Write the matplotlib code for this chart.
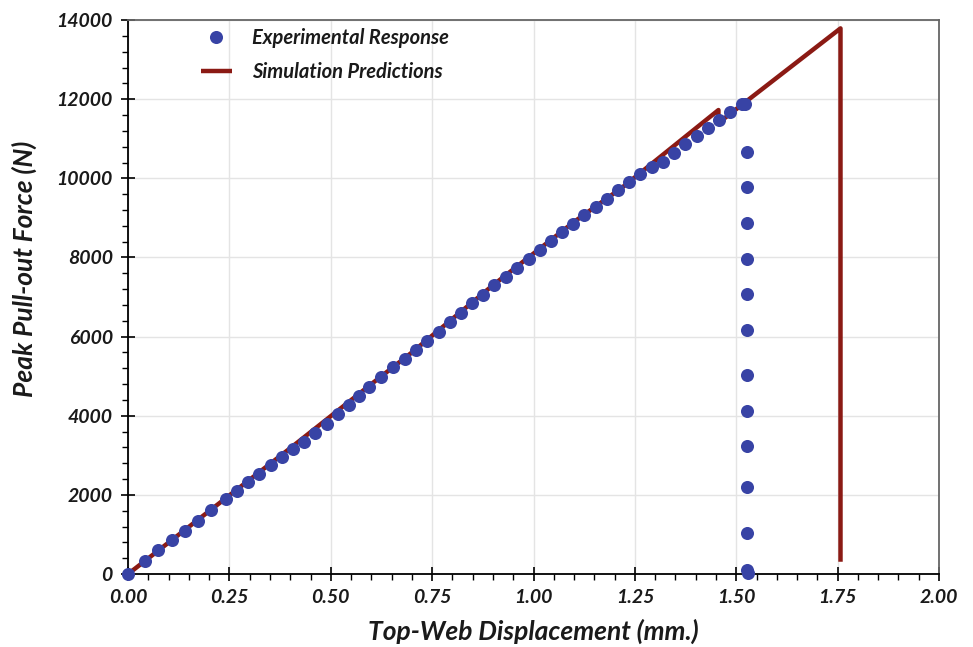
import matplotlib
matplotlib.use("Agg")
import matplotlib.pyplot as plt
from matplotlib.ticker import MultipleLocator, FormatStrFormatter

# Experimental data (displacement mm, force N)
exp_x = [0.000, 0.042, 0.075, 0.109, 0.141, 0.172, 0.205, 0.241, 0.268, 0.295,
         0.324, 0.352, 0.380, 0.406, 0.433, 0.462, 0.490, 0.517, 0.544, 0.570,
         0.595, 0.624, 0.654, 0.683, 0.710, 0.738, 0.766, 0.794, 0.820, 0.849,
         0.876, 0.903, 0.932, 0.960, 0.988, 1.016, 1.044, 1.071, 1.098, 1.125,
         1.153, 1.181, 1.209, 1.236, 1.263, 1.291, 1.319, 1.346, 1.374, 1.402,
         1.430, 1.457, 1.485, 1.514, 1.522,
         1.526, 1.526, 1.526, 1.526, 1.526, 1.526, 1.526, 1.526, 1.526, 1.526,
         1.526, 1.526, 1.528]
exp_y = [0, 329, 606, 859, 1095, 1331, 1617, 1895, 2106, 2325,
         2536, 2746, 2965, 3168, 3336, 3572, 3800, 4036, 4263, 4498,
         4734, 4980, 5223, 5433, 5661, 5896, 6124, 6360, 6588, 6841,
         7059, 7296, 7514, 7742, 7969, 8188, 8424, 8635, 8845, 9065,
         9275, 9485, 9696, 9898, 10100, 10293, 10412, 10631, 10859, 11069,
         11279, 11473, 11667, 11869, 11880,
         10672, 9772, 8862, 7960, 7076, 6166, 5029, 4127, 3227, 2191,
         1029, 100, 20]

# Simulation predictions
sim_x = [0.0, 0.40, 0.50, 0.60, 0.70, 0.90, 1.10, 1.22, 1.456, 1.456, 1.757, 1.757]
sim_y = [0, 3180, 3990, 4800, 5600, 7300, 8900, 9780, 11726, 11400, 13790, 310]

xticks = [0.00, 0.25, 0.50, 0.75, 1.00, 1.25, 1.50, 1.75, 2.00]
yticks = [0, 2000, 4000, 6000, 8000, 10000, 12000, 14000]

plt.rcParams['font.family'] = ['Lato', 'DejaVu Sans']

fig = plt.figure(figsize=(9.73, 6.47), dpi=100)
ax = fig.add_axes([0.1316, 0.1128, 0.8335, 0.8562])

red = '#8B1A14'
blue = '#3843A5'

ax.plot(sim_x, sim_y, color=red, lw=3.2, solid_capstyle='butt', zorder=3,
        label='Simulation Predictions')
ax.plot(exp_x, exp_y, 'o', color=blue, ms=9.4, mec='none', zorder=4, clip_on=False,
        label='Experimental Response')

ax.set_xlim(0, 2.0)
ax.set_ylim(0, 14000)
ax.set_xticks(xticks)
ax.set_yticks(yticks)
ax.xaxis.set_major_formatter(FormatStrFormatter('%.2f'))
ax.xaxis.set_minor_locator(MultipleLocator(0.05))
ax.yaxis.set_minor_locator(MultipleLocator(400))

ax.grid(True, which='major', color='#E4E4E4', lw=1.0, zorder=0)
ax.set_axisbelow(True)

for s in ['left', 'bottom']:
    ax.spines[s].set_color('black')
    ax.spines[s].set_linewidth(1.3)
for s in ['top', 'right']:
    ax.spines[s].set_color('#666666')
    ax.spines[s].set_linewidth(1.3)

ax.tick_params(which='major', direction='inout', length=10, width=1.2, colors='black',
               labelsize=14, pad=6)
ax.tick_params(which='minor', direction='out', length=4.5, width=1.0, colors='black')
for lab in ax.get_xticklabels() + ax.get_yticklabels():
    lab.set_fontweight('bold')
    lab.set_fontstyle('italic')
    lab.set_color('#1a1a1a')

ax.set_xlabel('Top-Web Displacement (mm.)', fontsize=19, fontweight='bold',
              fontstyle='italic', color='#1a1a1a', labelpad=9)
ax.set_ylabel('Peak Pull-out Force (N)', fontsize=19, fontweight='bold',
              fontstyle='italic', color='#1a1a1a')
ax.yaxis.set_label_coords(-0.112, 0.55)

handles, labels = ax.get_legend_handles_labels()
leg = ax.legend(handles[::-1], labels[::-1], loc='upper left',
                bbox_to_anchor=(0.068, 1.019), frameon=False,
                prop={'size': 14.5, 'weight': 'bold', 'style': 'italic'},
                handlelength=1.5, handletextpad=1.0, labelspacing=0.7)
for t in leg.get_texts():
    t.set_color('#1a1a1a')

fig.savefig('out.png', dpi=100)
